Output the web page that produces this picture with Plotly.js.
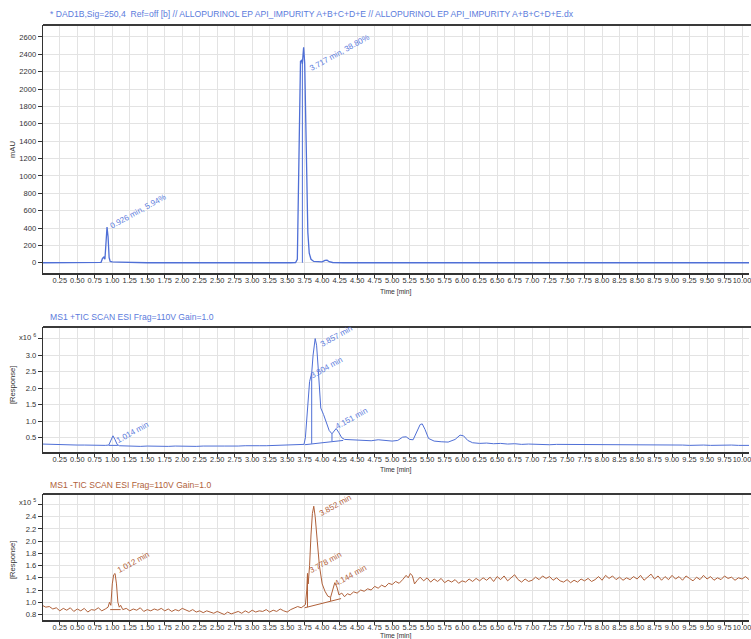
<!DOCTYPE html>
<html>
<head>
<meta charset="utf-8">
<script src="https://cdn.plot.ly/plotly-3.0.1.min.js"></script>
<style>html,body{margin:0;padding:0;background:#fff;}#chart{width:751px;height:639px;}</style>
</head>
<body>
<div id="chart"></div>
<script>
// ---------- Panel 1: DAD1B 250 nm (mAU) ----------
const dadTime = [0.00,0.80,0.84,0.86,0.88,0.895,0.91,0.925,0.94,0.955,0.97,1.00,1.10,1.20,1.30,1.50,3.55,3.62,3.645,3.66,3.675,3.69,3.705,3.717,3.725,3.735,3.75,3.765,3.78,3.795,3.815,3.84,3.88,3.95,4.00,4.04,4.07,4.10,4.15,4.30,5.40,5.46,5.52,5.58,5.72,5.76,5.80,10.10];
const dadAbs  = [0,0,5,50,65,40,250,410,300,60,15,10,8,5,2,0,0,2,40,700,1800,2320,2330,2290,2380,2480,2300,1700,900,350,110,40,15,8,10,28,30,12,3,0,0,8,6,0,0,3,0,0];
const dadDropTime = [3.717,3.717];
const dadDropAbs  = [0,2290];

// ---------- Panel 2: MS1 +TIC (x10^6) ----------
const posTime = [0.00,0.10,0.20,0.30,0.40,0.50,0.60,0.70,0.80,0.90,0.95,0.98,1.01,1.04,1.07,1.10,1.20,1.30,1.40,1.50,1.60,1.70,1.80,1.90,2.00,2.10,2.20,2.30,2.40,2.50,2.60,2.70,2.80,2.90,3.00,3.10,3.20,3.30,3.40,3.50,3.60,3.70,3.74,3.76,3.79,3.82,3.85,3.87,3.90,3.92,3.94,3.96,3.98,4.02,4.06,4.10,4.14,4.17,4.20,4.24,4.28,4.32,4.40,4.50,4.60,4.70,4.80,4.90,5.00,5.08,5.15,5.20,5.25,5.30,5.35,5.40,5.43,5.47,5.52,5.60,5.70,5.80,5.90,5.97,6.02,6.08,6.15,6.25,6.35,6.45,6.55,6.65,6.75,6.85,6.95,7.05,7.15,7.25,7.35,7.45,7.55,7.65,7.75,7.85,7.95,8.05,8.15,8.25,8.35,8.45,8.55,8.65,8.75,8.85,8.95,9.05,9.15,9.25,9.35,9.45,9.55,9.65,9.75,9.85,9.95,10.05,10.10];
const posResp = [0.31,0.30,0.29,0.29,0.28,0.28,0.28,0.27,0.27,0.27,0.28,0.42,0.56,0.44,0.30,0.26,0.25,0.26,0.24,0.25,0.24,0.25,0.24,0.25,0.24,0.25,0.24,0.25,0.24,0.25,0.25,0.24,0.25,0.26,0.25,0.26,0.26,0.27,0.27,0.27,0.28,0.29,0.30,0.50,1.50,2.20,2.45,3.00,3.50,3.30,2.70,1.90,1.40,1.20,0.95,0.72,0.62,0.72,0.78,0.65,0.50,0.45,0.44,0.42,0.43,0.41,0.44,0.41,0.40,0.42,0.52,0.53,0.45,0.44,0.70,0.90,0.92,0.75,0.48,0.40,0.38,0.37,0.45,0.58,0.56,0.42,0.35,0.33,0.34,0.32,0.33,0.31,0.32,0.30,0.31,0.30,0.31,0.29,0.30,0.30,0.29,0.30,0.29,0.30,0.28,0.29,0.30,0.28,0.29,0.28,0.29,0.28,0.29,0.28,0.28,0.29,0.28,0.27,0.28,0.28,0.27,0.28,0.27,0.28,0.27,0.26,0.27];
const posBaseTime = [0.95,1.08,null,3.75,4.30,null,3.85,3.85,null,4.14,4.14];
const posBaseResp = [0.27,0.27,null,0.29,0.42,null,0.32,2.45,null,0.40,0.62];

// ---------- Panel 3: MS1 -TIC (x10^5) ----------
const negTime = [0.00,0.05,0.10,0.15,0.20,0.25,0.30,0.35,0.40,0.45,0.50,0.55,0.60,0.65,0.70,0.75,0.80,0.85,0.90,0.94,0.96,0.98,1.00,1.02,1.04,1.06,1.08,1.10,1.12,1.15,1.20,1.25,1.30,1.35,1.40,1.45,1.50,1.55,1.60,1.65,1.70,1.75,1.80,1.85,1.90,1.95,2.00,2.05,2.10,2.15,2.20,2.25,2.30,2.35,2.40,2.45,2.50,2.55,2.60,2.65,2.70,2.75,2.80,2.85,2.90,2.95,3.00,3.05,3.10,3.15,3.20,3.25,3.30,3.35,3.40,3.45,3.50,3.55,3.60,3.65,3.70,3.74,3.76,3.78,3.79,3.80,3.82,3.84,3.86,3.88,3.90,3.93,3.96,4.00,4.04,4.08,4.12,4.15,4.18,4.21,4.24,4.28,4.32,4.36,4.40,4.45,4.50,4.55,4.60,4.65,4.70,4.75,4.80,4.85,4.90,4.95,5.00,5.05,5.10,5.15,5.20,5.23,5.26,5.29,5.32,5.36,5.40,5.45,5.50,5.55,5.60,5.65,5.70,5.75,5.80,5.85,5.90,5.95,6.00,6.05,6.10,6.15,6.20,6.25,6.30,6.35,6.40,6.45,6.50,6.55,6.60,6.65,6.70,6.75,6.80,6.85,6.90,6.95,7.00,7.05,7.10,7.15,7.20,7.25,7.30,7.35,7.40,7.45,7.50,7.55,7.60,7.65,7.70,7.75,7.80,7.85,7.90,7.95,8.00,8.05,8.10,8.15,8.20,8.25,8.30,8.35,8.40,8.45,8.50,8.55,8.60,8.65,8.70,8.75,8.80,8.85,8.90,8.95,9.00,9.05,9.10,9.15,9.20,9.25,9.30,9.35,9.40,9.45,9.50,9.55,9.60,9.65,9.70,9.75,9.80,9.85,9.90,9.95,10.00,10.05,10.10];
const negResp = [0.95,0.92,0.93,0.89,0.91,0.86,0.90,0.87,0.91,0.85,0.89,0.86,0.90,0.84,0.88,0.87,0.91,0.86,0.89,0.92,1.00,0.95,1.30,1.45,1.47,1.30,1.00,0.92,0.95,0.88,0.90,0.86,0.89,0.87,0.91,0.85,0.88,0.86,0.89,0.87,0.90,0.86,0.89,0.85,0.88,0.86,0.90,0.87,0.85,0.88,0.84,0.86,0.83,0.86,0.84,0.82,0.85,0.83,0.80,0.84,0.81,0.83,0.85,0.82,0.86,0.83,0.87,0.84,0.86,0.85,0.88,0.84,0.87,0.85,0.89,0.86,0.84,0.88,0.90,0.93,0.91,0.94,0.96,1.20,1.47,1.30,1.60,2.10,2.45,2.57,2.40,2.00,1.60,1.30,1.18,1.10,1.08,1.20,1.32,1.25,1.12,1.15,1.09,1.14,1.12,1.17,1.15,1.20,1.18,1.22,1.20,1.26,1.23,1.28,1.25,1.31,1.29,1.34,1.31,1.37,1.44,1.40,1.47,1.43,1.30,1.36,1.41,1.35,1.40,1.33,1.38,1.34,1.39,1.32,1.36,1.33,1.37,1.31,1.35,1.33,1.38,1.34,1.39,1.35,1.40,1.36,1.41,1.34,1.42,1.37,1.43,1.35,1.40,1.45,1.37,1.33,1.38,1.34,1.36,1.41,1.37,1.43,1.39,1.42,1.36,1.40,1.35,1.33,1.37,1.32,1.36,1.33,1.38,1.35,1.39,1.34,1.37,1.42,1.36,1.44,1.39,1.43,1.37,1.41,1.36,1.40,1.37,1.42,1.38,1.44,1.36,1.41,1.46,1.38,1.43,1.36,1.42,1.37,1.44,1.38,1.42,1.36,1.43,1.39,1.35,1.41,1.37,1.44,1.38,1.42,1.36,1.40,1.37,1.43,1.39,1.41,1.36,1.40,1.38,1.42,1.37];
const negBaseTime = [0.97,1.12,null,3.75,4.27,null,3.79,3.79,null,4.12,4.12];
const negBaseResp = [0.88,0.88,null,0.91,1.06,null,0.92,1.47,null,1.02,1.08];

// ---------- Peak labels ----------
const dadLabels = ['0.926 min, 5.94%','3.717 min, 38.80%'];
const dadLabelTime = [0.91,3.765];
const dadLabelAbs = [340,2160];
const posLabels = ['1.014 min','3.857 min','3.804 min','4.151 min'];
const posLabelTime = [1.00,3.91,3.78,4.13];
const posLabelResp = [0.20,3.10,2.17,0.62];
const negLabels = ['1.012 min','3.852 min','3.778 min','4.144 min'];
const negLabelTime = [1.01,3.90,3.76,4.12];
const negLabelResp = [1.40,2.33,1.40,1.19];

// ---------- Texts ----------
const titles = ['* DAD1B,Sig=250,4  Ref=off [b] // ALLOPURINOL EP API_IMPURITY A+B+C+D+E // ALLOPURINOL EP API_IMPURITY A+B+C+D+E.dx',
                'MS1 +TIC SCAN ESI Frag=110V Gain=1.0',
                'MS1 -TIC SCAN ESI Frag=110V Gain=1.0'];
const yTitles = ['mAU','[Response]','[Response]'];
const xTitle = 'Time [min]';
const dadTicks = [0,200,400,600,800,1000,1200,1400,1600,1800,2000,2200,2400,2600];
const posTicks = [0.5,1.0,1.5,2.0,2.5,3.0];
const posTickText = ['0.5','1.0','1.5','2.0','2.5','3.0'];
const posExpTick = [3.5];
const negTicks = [0.8,1.0,1.2,1.4,1.6,1.8,2.0,2.2,2.4];
const negTickText = ['0.8','1.0','1.2','1.4','1.6','1.8','2.0','2.2','2.4'];
const negExpTick = [2.6];

const BLUE = '#4f6fd6', BLUE_T = '#5b7bdc', BROWN = '#b0613a';
const W = 751, H = 639;
const px = v => v / W, py = v => 1 - v / H;
const FONT = 'Liberation Sans, Arial, sans-serif';

const xDom = [px(43), px(749)];
const yDoms = [[py(273), py(25)], [py(452), py(327)], [py(620), py(494)]];

function xaxisDef(anchor) {
  return {
    domain: xDom, anchor: anchor, range: [0.01, 10.1],
    tick0: 0.25, dtick: 0.25, tickformat: '.2f', tickangle: 0,
    ticks: 'outside', ticklen: 3, tickcolor: '#333',
    ticklabelstandoff: -3, ticklabeloverflow: 'allow',
    tickfont: {family: FONT, size: 7.4, color: '#333'},
    showgrid: true, gridcolor: '#e3e3e3', gridwidth: 1,
    showline: true, linecolor: '#333', linewidth: 1.5, zeroline: false
  };
}
function yaxisDef(anchor, dom, range, tv, tt, extra) {
  const ax = {
    domain: dom, anchor: anchor, range: range,
    tickmode: 'array', tickvals: tv, ticktext: tt,
    ticks: 'outside', ticklen: 4, tickcolor: '#333',
    tickfont: {family: FONT, size: 7.6, color: '#333'},
    showgrid: true, gridcolor: '#e3e3e3', gridwidth: 1,
    showline: true, linecolor: '#333', linewidth: 1.2, zeroline: false
  };
  if (extra) {
    ax.minor = {tickmode: 'array', tickvals: extra, ticks: 'outside', ticklen: 4, tickcolor: '#333',
                showgrid: true, gridcolor: '#e3e3e3', gridwidth: 1};
  }
  return ax;
}

const traces = [
  {x: dadTime, y: dadAbs, xaxis: 'x', yaxis: 'y', mode: 'lines', line: {color: BLUE, width: 1.3}},
  {x: dadDropTime, y: dadDropAbs, xaxis: 'x', yaxis: 'y', mode: 'lines', line: {color: BLUE, width: 1}},
  {x: posTime, y: posResp, xaxis: 'x2', yaxis: 'y2', mode: 'lines', line: {color: BLUE, width: 1}},
  {x: posBaseTime, y: posBaseResp, xaxis: 'x2', yaxis: 'y2', mode: 'lines', connectgaps: false, line: {color: BLUE, width: 1}},
  {x: negTime, y: negResp, xaxis: 'x3', yaxis: 'y3', mode: 'lines', line: {color: BROWN, width: 1}},
  {x: negBaseTime, y: negBaseResp, xaxis: 'x3', yaxis: 'y3', mode: 'lines', connectgaps: false, line: {color: BROWN, width: 1}}
];

const annotations = [];
function peakLabels(texts, xs, ys, xr, yr, color) {
  texts.forEach((t, i) => annotations.push({
    text: t, x: xs[i], y: ys[i], xref: xr, yref: yr, showarrow: false,
    textangle: -29, xanchor: 'left', yanchor: 'bottom',
    font: {family: FONT, size: 8, color: color}
  }));
}
peakLabels(dadLabels, dadLabelTime, dadLabelAbs, 'x', 'y', BLUE_T);
peakLabels(posLabels, posLabelTime, posLabelResp, 'x2', 'y2', BLUE_T);
peakLabels(negLabels, negLabelTime, negLabelResp, 'x3', 'y3', BROWN);

const titleY = [14, 317, 485];
const titleColors = [BLUE_T, BLUE_T, BROWN];
titles.forEach((t, i) => annotations.push({
  text: t, x: px(48), y: py(titleY[i]), xref: 'paper', yref: 'paper', showarrow: false,
  xanchor: 'left', yanchor: 'middle', font: {family: FONT, size: 8.6, color: titleColors[i]}
}));
const yTitleY = [150, 385, 560];
yTitles.forEach((t, i) => annotations.push({
  text: t, x: px(12), y: py(yTitleY[i]), xref: 'paper', yref: 'paper', showarrow: false,
  textangle: -90, xanchor: 'center', yanchor: 'middle', font: {family: FONT, size: 7.6, color: '#333'}
}));
[292, 470, 635.5].forEach(yy => annotations.push({
  text: xTitle, x: px(396), y: py(yy), xref: 'paper', yref: 'paper', showarrow: false,
  xanchor: 'center', yanchor: 'middle', font: {family: FONT, size: 6.8, color: '#333'}
}));
annotations.push({text: 'x10 <sup>6</sup>', x: px(38), y: py(337), xref: 'paper', yref: 'paper', showarrow: false,
  xanchor: 'right', yanchor: 'middle', font: {family: FONT, size: 7.6, color: '#333'}});
annotations.push({text: 'x10 <sup>5</sup>', x: px(38), y: py(502), xref: 'paper', yref: 'paper', showarrow: false,
  xanchor: 'right', yanchor: 'middle', font: {family: FONT, size: 7.6, color: '#333'}});

const shapes = yDoms.map(d => ({
  type: 'line', xref: 'paper', yref: 'paper', x0: xDom[0], x1: 1, y0: d[1], y1: d[1],
  line: {color: '#3a3a3a', width: 2}
}));

const layout = {
  width: W, height: H, autosize: false,
  margin: {l: 0, r: 0, t: 0, b: 0, pad: 0},
  paper_bgcolor: '#ffffff', plot_bgcolor: '#ffffff',
  showlegend: false,
  xaxis: xaxisDef('y'),
  xaxis2: xaxisDef('y2'),
  xaxis3: xaxisDef('y3'),
  yaxis: yaxisDef('x', yDoms[0], [-118, 2738], dadTicks, dadTicks.map(String)),
  yaxis2: yaxisDef('x2', yDoms[1], [0.07, 3.85], posTicks, posTickText, posExpTick),
  yaxis3: yaxisDef('x3', yDoms[2], [0.71, 2.77], negTicks, negTickText, negExpTick),
  annotations: annotations,
  shapes: shapes
};

Plotly.newPlot('chart', traces, layout, {displayModeBar: false, staticPlot: true});
</script>
</body>
</html>
